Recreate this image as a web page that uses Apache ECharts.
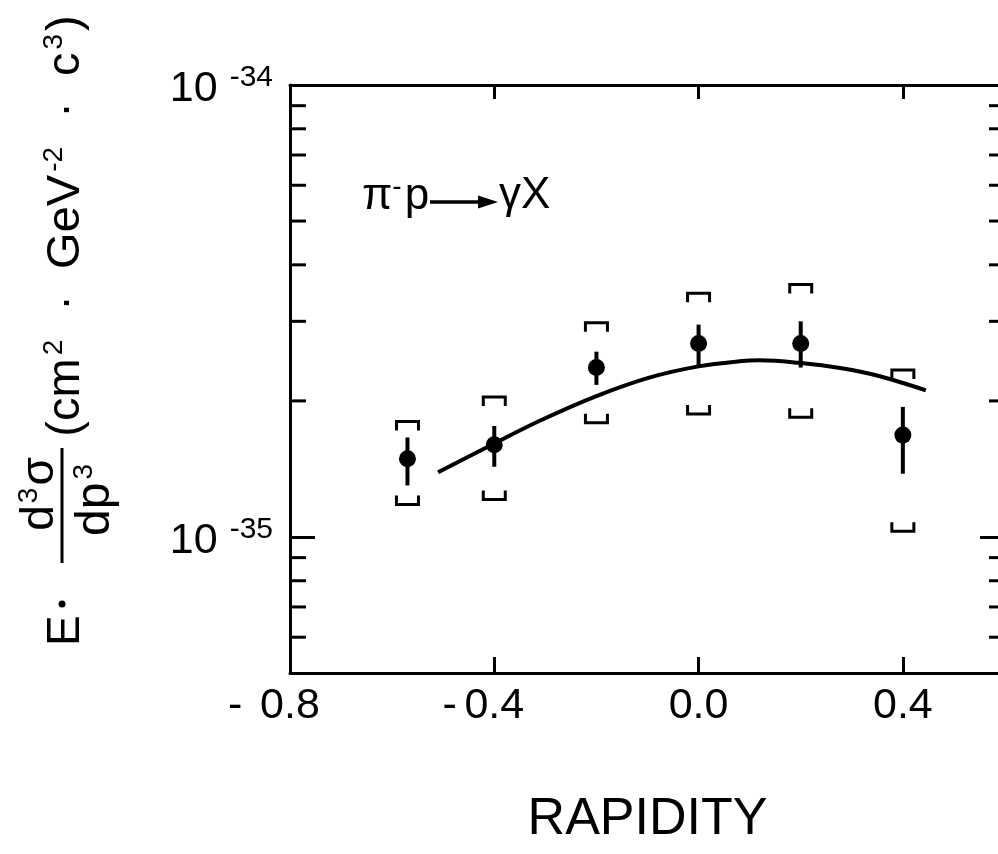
<!DOCTYPE html>
<html><head><meta charset="utf-8">
<script src="https://cdn.jsdelivr.net/npm/echarts@6/dist/echarts.min.js"></script>
<style>html,body{margin:0;padding:0;background:#fff}#c{width:998px;height:854px}</style>
</head><body><div id="c"></div>
<script>
// ---- data ----
const rapidity     = [-0.57, -0.40, -0.20, 0.00, 0.20, 0.40];
const crossSection = [1.49e-35, 1.60e-35, 2.37e-35, 2.68e-35, 2.68e-35, 1.68e-35];
const statLow      = [1.30e-35, 1.43e-35, 2.17e-35, 2.39e-35, 2.37e-35, 1.38e-35];
const statHigh     = [1.66e-35, 1.76e-35, 2.57e-35, 2.95e-35, 3.00e-35, 1.94e-35];
const sysLow       = [1.18e-35, 1.21e-35, 1.79e-35, 1.87e-35, 1.84e-35, 1.03e-35];
const sysHigh      = [1.80e-35, 2.04e-35, 2.98e-35, 3.46e-35, 3.62e-35, 2.34e-35];
const curveX = [-0.51, -0.40, -0.31, -0.20, -0.095, 0.00, 0.08, 0.12, 0.195, 0.28, 0.355, 0.445];
const curveY = [1.39e-35, 1.61e-35, 1.81e-35, 2.05e-35, 2.255e-35, 2.385e-35, 2.447e-35, 2.459e-35, 2.428e-35, 2.361e-35, 2.267e-35, 2.11e-35];
const xMin = -0.8, xMax = 0.6;
const yMin = 5e-36, yMax = 1e-34;
const xTickLabels = [-0.8, -0.4, 0.0, 0.4];
const xInnerTicks = [-0.4, 0.0, 0.4];
const yMajorTicks = [1e-35, 1e-34];
const yMajorExponents = [-35, -34];
const yMinorTicks = [6e-36, 7e-36, 8e-36, 9e-36, 2e-35, 3e-35, 4e-35, 5e-35, 6e-35, 7e-35, 8e-35, 9e-35];

const FF = '"Liberation Sans", Arial, sans-serif';
const K = '#000';
const chart = echarts.init(document.getElementById('c'), null, {renderer: 'canvas'});

function xLabel(v) {
  if (Math.abs(v) < 1e-9) return '{n|0.0}';
  if (v < 0) {
    const wide = v < -0.7;
    return '{' + (wide ? 'mw' : 'm') + '|-}{n|' + Math.abs(v).toFixed(1) + '}{' + (wide ? 'pw' : 'p') + '|}';
  }
  return '{n|' + v.toFixed(1) + '}';
}
const axisLine = {show: true, onZero: false, lineStyle: {color: K, width: 3}};
const yBase = {type: 'log', logBase: 10, min: yMin, max: yMax, splitLine: {show: false}, minorTick: {show: false}, axisLabel: {show: false}};
const supRich = {
  b: {fontSize: 43, fontFamily: FF, fill: K, color: K, lineHeight: 48, verticalAlign: 'bottom'},
  s: {fontSize: 30, fontFamily: FF, fill: K, color: K, lineHeight: 30, verticalAlign: 'top', padding: [0, 0, 0, 12]}
};

const option = {
  animation: false,
  backgroundColor: '#fff',
  grid: {left: 290, top: 85, right: -7, bottom: 181, containLabel: false, outerBoundsMode: 'none'},
  xAxis: [
    {type: 'value', min: xMin, max: xMax, position: 'bottom', axisLine: axisLine, splitLine: {show: false},
     axisTick: {show: true, inside: true, length: 16, customValues: xInnerTicks, lineStyle: {color: K, width: 3}},
     axisLabel: {customValues: xTickLabels, formatter: xLabel, margin: 12, color: K,
       rich: {
         n: {fontSize: 43, fontFamily: FF, color: K},
         m: {fontSize: 43, fontFamily: FF, color: K, width: 22, align: 'left'},
         p: {width: 22},
         mw: {fontSize: 43, fontFamily: FF, color: K, width: 32, align: 'left'},
         pw: {width: 32}
       }},
     name: 'RAPIDITY', nameLocation: 'middle', nameGap: 121,
     nameTextStyle: {fontSize: 52, fontFamily: FF, color: K, verticalAlign: 'top'}},
    {type: 'value', min: xMin, max: xMax, position: 'top', axisLine: axisLine, splitLine: {show: false},
     axisTick: {show: true, inside: true, length: 14, customValues: xInnerTicks, lineStyle: {color: K, width: 3}},
     axisLabel: {show: false}}
  ],
  yAxis: [
    Object.assign({}, yBase, {position: 'left', axisLine: axisLine,
      axisTick: {show: true, inside: true, length: 25, lineStyle: {color: K, width: 3}}}),
    Object.assign({}, yBase, {position: 'right', axisLine: axisLine,
      axisTick: {show: true, inside: true, length: 25, lineStyle: {color: K, width: 3}}})
  ],
  series: [
    {type: 'custom', name: 'minorTicks', silent: true, clip: false,
     data: yMinorTicks.map(v => [xMin, v]),
     encode: {x: 0, y: 1},
     renderItem: function (params, api) {
       const l = api.coord([xMin, api.value(1)]);
       const r = api.coord([xMax, api.value(1)]);
       return {type: 'group', children: [
         {type: 'line', shape: {x1: l[0], y1: l[1], x2: l[0] + 16, y2: l[1]}, style: {stroke: K, lineWidth: 3}},
         {type: 'line', shape: {x1: r[0] - 16, y1: r[1], x2: r[0], y2: r[1]}, style: {stroke: K, lineWidth: 3}}
       ]};
     }, z: 1},
    {type: 'custom', name: 'yLabels', silent: true, clip: false,
     data: yMajorTicks.map((v, i) => [xMin, v, yMajorExponents[i]]),
     encode: {x: 0, y: 1},
     renderItem: function (params, api) {
       const p = api.coord([xMin, api.value(1)]);
       const e = api.value(2);
       return {type: 'text', x: p[0] - 17, y: p[1] + 2,
         style: {text: '{b|10}{s|-' + Math.abs(e) + '}', rich: supRich, fill: K,
                 textAlign: 'right', textVerticalAlign: 'middle', align: 'right', verticalAlign: 'middle'}};
     }, z: 1},
    {type: 'line', name: 'fit', smooth: 0.35, showSymbol: false, symbol: 'none',
     data: curveX.map((x, i) => [x, curveY[i]]),
     lineStyle: {color: K, width: 4}, z: 2},
    {type: 'custom', name: 'stat',
     data: rapidity.map((x, i) => [x, statLow[i], statHigh[i]]),
     renderItem: function (params, api) {
       const a = api.coord([api.value(0), api.value(1)]);
       const b = api.coord([api.value(0), api.value(2)]);
       return {type: 'line', shape: {x1: a[0], y1: a[1], x2: b[0], y2: b[1]}, style: {stroke: K, lineWidth: 4}};
     }, z: 3},
    {type: 'custom', name: 'sys',
     data: rapidity.map((x, i) => [x, sysLow[i], sysHigh[i]]),
     renderItem: function (params, api) {
       const lo = api.coord([api.value(0), api.value(1)]);
       const hi = api.coord([api.value(0), api.value(2)]);
       const w = 11, arm = 9;
       return {type: 'group', children: [
         {type: 'polyline', shape: {points: [[hi[0] - w, hi[1] + arm], [hi[0] - w, hi[1]], [hi[0] + w, hi[1]], [hi[0] + w, hi[1] + arm]]},
          style: {stroke: K, lineWidth: 3, fill: null}},
         {type: 'polyline', shape: {points: [[lo[0] - w, lo[1] - arm], [lo[0] - w, lo[1]], [lo[0] + w, lo[1]], [lo[0] + w, lo[1] - arm]]},
          style: {stroke: K, lineWidth: 3, fill: null}}
       ]};
     }, z: 3},
    {type: 'scatter', name: 'data', symbol: 'circle', symbolSize: 17,
     data: rapidity.map((x, i) => [x, crossSection[i]]),
     itemStyle: {color: K, opacity: 1}, z: 4}
  ],
  graphic: [
    {type: 'group', x: 83, y: 660, rotation: Math.PI / 2, children: [
      {type: 'text', x: 14, y: -17, style: {text: 'E', font: '46px ' + FF, fill: K, textAlign: 'left', textVerticalAlign: 'middle'}},
      {type: 'circle', shape: {cx: 56, cy: -21, r: 3.5}, style: {fill: K}},
      {type: 'line', shape: {x1: 97, y1: -21, x2: 212, y2: -21}, style: {stroke: K, lineWidth: 3}},
      {type: 'text', x: 166, y: -44, style: {text: '{n|d}{s|3}{n|σ}', textAlign: 'center', textVerticalAlign: 'middle',
        rich: {n: {fontSize: 46, fontFamily: FF, fill: K, lineHeight: 48, verticalAlign: 'bottom'},
               s: {fontSize: 28, fontFamily: FF, fill: K, lineHeight: 28, verticalAlign: 'top', padding: [0, 2, 0, 2]}}}},
      {type: 'text', x: 160, y: 12, style: {text: '{n|dp}{s|3}', textAlign: 'center', textVerticalAlign: 'middle',
        rich: {n: {fontSize: 48, fontFamily: FF, fill: K, lineHeight: 50, verticalAlign: 'bottom'},
               s: {fontSize: 28, fontFamily: FF, fill: K, lineHeight: 28, verticalAlign: 'top', padding: [0, 0, 0, 3]}}}},
      {type: 'text', x: 434, y: -18, style: {text: '{n|(cm}{s|2}{n|  ·  GeV}{s|-2}{n|  ·  c}{s|3}{n|)}', textAlign: 'center', textVerticalAlign: 'middle',
        rich: {n: {fontSize: 47, fontFamily: FF, fill: K, lineHeight: 49, verticalAlign: 'bottom'},
               s: {fontSize: 28, fontFamily: FF, fill: K, lineHeight: 28, verticalAlign: 'top', padding: [0, 3, 0, 3]}}}}
    ]},
    {type: 'text', x: 362, y: 196, style: {text: '{a|π}{s|-}{a|p}', textAlign: 'left', textVerticalAlign: 'middle',
      rich: {a: {fontSize: 44, fontFamily: FF, fill: K, lineHeight: 46, verticalAlign: 'bottom'},
             s: {fontSize: 28, fontFamily: FF, fill: K, lineHeight: 28, verticalAlign: 'top', padding: [0, 3, 0, 0]}}}},
    {type: 'line', shape: {x1: 430, y1: 202, x2: 484, y2: 202}, style: {stroke: K, lineWidth: 3.5}},
    {type: 'polygon', shape: {points: [[478, 195.5], [498, 202], [478, 208.5]]}, style: {fill: K}},
    {type: 'text', x: 499, y: 196, style: {text: 'γX', font: '44px ' + FF, fill: K, textAlign: 'left', textVerticalAlign: 'middle'}}
  ]
};
chart.setOption(option);
</script></body></html>
